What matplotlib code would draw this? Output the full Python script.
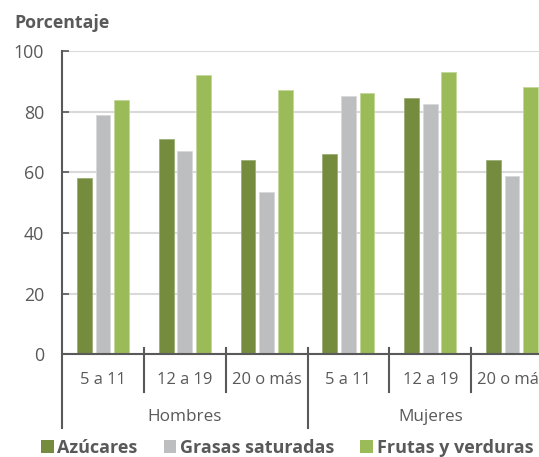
import matplotlib
matplotlib.use("Agg")
import matplotlib.pyplot as plt
from matplotlib.patches import Patch
import numpy as np

plt.rcParams['font.family'] = ['Open Sans', 'DejaVu Sans']

age_groups = ["5 a 11", "12 a 19", "20 o más", "5 a 11", "12 a 19", "20 o más"]
sex_groups = ["Hombres", "Mujeres"]
series_names = ["Azúcares", "Grasas saturadas", "Frutas y verduras"]
azucares = [58, 71, 64, 66, 84.5, 64]
grasas = [79, 67, 53.5, 85.3, 82.4, 58.7]
frutas = [84, 92, 87, 86, 93, 88]
yticks = [0, 20, 40, 60, 80, 100]

colors = ["#758C3E", "#BDBEC0", "#9BBB59"]
edges = ["#9DAE78", "#D8D9DA", "#C3D79B"]
txt = "#595959"
W, H = 539, 457

fig = plt.figure(figsize=(W / 100, H / 100), dpi=100)
x0, x1 = 62, 553
ytop, ybot = 51, 354.3
ax = fig.add_axes([x0 / W, (H - ybot) / H, (x1 - x0) / W, (ybot - ytop) / H])

xc = np.arange(len(age_groups)) + 0.5
pitch = 0.227
bw = 0.18
for i, (vals, c, e) in enumerate(zip([azucares, grasas, frutas], colors, edges)):
    ax.bar(xc + (i - 1) * pitch, vals, width=bw, color=c, edgecolor=e, linewidth=0.6, zorder=3)

ax.set_xlim(0, 6)
ax.set_ylim(0, 100)
ax.set_yticks(yticks)
ax.set_yticklabels([str(v) for v in yticks], fontsize=12.8, color=txt)
ax.tick_params(axis='y', direction='in', length=5, width=1.2, color=txt, pad=13)
ax.set_xticks([])
ax.grid(axis='y', color="#D9D9D9", linewidth=1.5, zorder=0)
for s in ['top', 'right']:
    ax.spines[s].set_visible(False)
ax.spines['left'].set_visible(False)
ax.spines['bottom'].set_color(txt)
ax.spines['bottom'].set_linewidth(1.5)
ax.spines['bottom'].set_zorder(4)

px = 1.0 / (ybot - ytop)  # axes units per pixel
tr = ax.get_xaxis_transform()
# left spine extended
ax.plot([0, 0], [1.0, -(428 - ybot) * px], transform=tr, color=txt, lw=1.5, clip_on=False, zorder=5)
for k in range(1, 6):
    bottom = 428 if k == 3 else 392
    ax.plot([k, k], [6 * px, -(bottom - ybot) * px], transform=tr, color=txt, lw=1.5, clip_on=False, zorder=5)

for xi, lab in zip(xc, age_groups):
    ax.text(xi, -(380.5 - ybot) * px, lab, transform=tr, ha='center', va='center', fontsize=11.9, color=txt)
for j, lab in enumerate(sex_groups):
    ax.text(1.5 + 3 * j, -(417 - ybot) * px, lab, transform=tr, ha='center', va='center', fontsize=12.3, color=txt)

fig.text(14 / W, 1 - 22.5 / H, "Porcentaje", ha='left', va='center', fontsize=12.8, fontweight='bold', color=txt)

handles = [Patch(facecolor=c, edgecolor='none') for c in colors]
fig.legend(handles, series_names, loc='center', bbox_to_anchor=(287 / W, 1 - 448 / H), ncol=3,
           frameon=False, prop={'weight': 'bold', 'size': 13}, labelcolor=txt,
           handlelength=0.7, handleheight=0.7, handletextpad=0.2, columnspacing=1.45, borderpad=0)

fig.savefig("out.png", dpi=100)
